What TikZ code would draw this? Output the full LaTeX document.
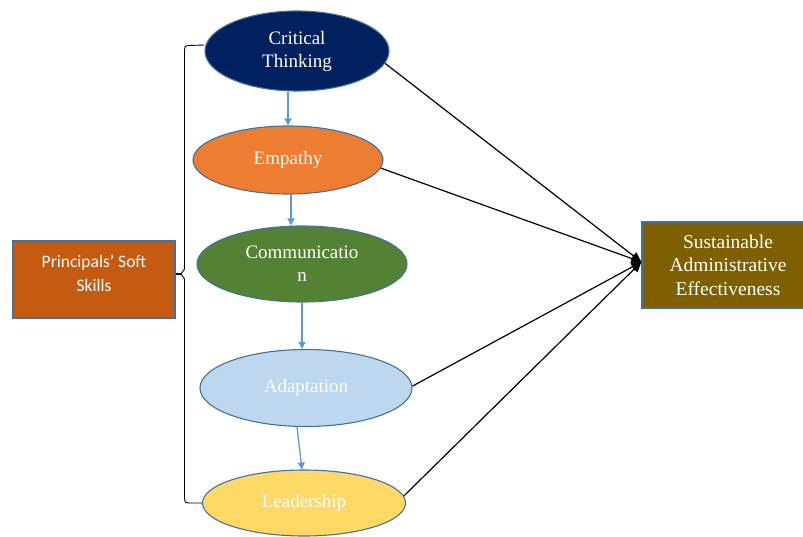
\documentclass[tikz,border=0pt]{standalone}
\usepackage{fontspec}
\setmainfont{Liberation Serif}
\newfontfamily\calibrilike{Carlito}
\usetikzlibrary{shapes.geometric,arrows.meta}
\definecolor{navy}{RGB}{0,32,96}
\definecolor{orangeA}{RGB}{237,125,49}
\definecolor{greenA}{RGB}{84,130,53}
\definecolor{lightblueA}{RGB}{189,215,238}
\definecolor{goldA}{RGB}{255,217,102}
\definecolor{rustA}{RGB}{197,90,17}
\definecolor{oliveA}{RGB}{127,96,0}
\definecolor{edgeA}{RGB}{65,113,156}
\definecolor{flowA}{RGB}{91,155,213}
\begin{document}
\begin{tikzpicture}[x=1pt,y=-1pt,
  skill/.style={ellipse,draw=edgeA,line width=1.1pt,inner sep=0pt,
    text=white,align=center,font=\fontsize{19}{23}\selectfont},
  sidebox/.style={rectangle,draw=edgeA,line width=1.3pt,inner sep=0pt,
    text=white,align=center},
  flow/.style={draw=flowA,line width=1.3pt,-{Triangle[length=7pt,width=7pt]}},
  effect/.style={draw=black,line width=1.2pt,-{Triangle[length=10pt,width=9pt]}}]
\useasboundingbox (0,0) rectangle (803,537);

% skill ellipses
\node[skill,fill=navy,minimum width=184pt,minimum height=80pt] (ct) at (297,51) {Critical\\Thinking};
\node[skill,fill=orangeA,minimum width=190pt,minimum height=68pt] (emp) at (288,160) {Empathy};
\node[skill,fill=greenA,minimum width=210pt,minimum height=76pt] (comm) at (302,264) {Communicatio\\n};
\node[skill,fill=lightblueA,minimum width=212pt,minimum height=77pt] (adapt) at (306,388) {Adaptation};
\node[skill,fill=goldA,minimum width=203pt,minimum height=66pt] (lead) at (304,503) {Leadership};

% side boxes
\node[sidebox,fill=rustA,minimum width=162pt,minimum height=77pt,text depth=12pt,
  font=\calibrilike\fontsize{17.5}{23.5}\selectfont] (soft) at (94,279.5) {Principals’ Soft\\Skills};
\node[sidebox,fill=oliveA,minimum width=162pt,minimum height=86pt,
  font=\fontsize{19.5}{23.5}\selectfont] (sae) at (723,265) {\hspace*{10pt}Sustainable\\\hspace*{10pt}Administrative\\\hspace*{10pt}Effectiveness};

% brace grouping the skills
\coordinate (bt) at (ct.west |- 0,45);
\coordinate (bb) at (lead.west);
\coordinate (tip) at (181,274);
\draw[black,line width=0.9pt] (bt) -- (189,45.5) .. controls (185,46) .. (184.5,50)
  -- (184.5,269) -- (tip) -- (184.5,279) -- (184.5,498) .. controls (185,502.5) .. (189,503) -- (bb);
\draw[black,line width=1.2pt] (soft.east |- tip) -- (tip);

% sequence of skills
\draw[flow] (ct.south -| emp.north) -- (emp.north);
\draw[flow] ([xshift=3pt]emp.south) -- ([xshift=3pt]emp.south |- comm.north);
\draw[flow] (comm.south) -- (comm.south |- adapt.north);
\draw[flow] ([xshift=-9pt]adapt.south) -- ([xshift=-2pt]lead.north);

% effects on administrative effectiveness
\draw[effect] (ct.-8) -- ([yshift=3pt]sae.west);
\draw[effect] (emp.-5) -- ([yshift=3pt]sae.west);
\draw[effect] (adapt.1) -- ([yshift=3pt]sae.west);
\draw[effect] (lead.4) -- ([yshift=3pt]sae.west);
\end{tikzpicture}
\end{document}
